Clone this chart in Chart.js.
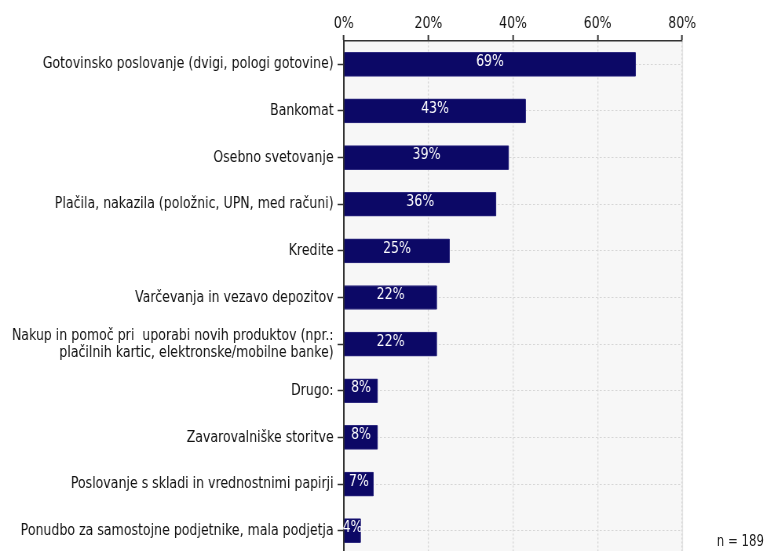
<!DOCTYPE html>
<html>
<head>
<meta charset="utf-8">
<script src="https://cdn.jsdelivr.net/npm/chart.js@4/dist/chart.umd.min.js"></script>
<style>
  html, body { margin: 0; padding: 0; background: #ffffff; overflow: hidden; }
  /* the chart is laid out wide and compressed horizontally to the page width */
  #wrap { position: relative; width: 971px; height: 555px; transform: scaleX(0.785); transform-origin: 0 0; }
  #c { display: block; width: 971px; height: 555px; }
  #note { position: absolute; left: 913px; top: 533px; font: 15px/16px "DejaVu Sans", sans-serif; color: #222; white-space: nowrap; }
</style>
</head>
<body>
<div id="wrap">
  <canvas id="c" width="971" height="555"></canvas>
  <div id="note">n = 189</div>
</div>
<script>
// Services used at the branch, share of respondents (%)
const categories = [
  "Gotovinsko poslovanje (dvigi, pologi gotovine)",
  "Bankomat",
  "Osebno svetovanje",
  "Plačila, nakazila (položnic, UPN, med računi)",
  "Kredite",
  "Varčevanja in vezavo depozitov",
  ["Nakup in pomoč pri  uporabi novih produktov (npr.:", "plačilnih kartic, elektronske/mobilne banke)"],
  "Drugo:",
  "Zavarovalniške storitve",
  "Poslovanje s skladi in vrednostnimi papirji",
  "Ponudbo za samostojne podjetnike, mala podjetja"
];
const shares = [69, 43, 39, 36, 25, 22, 22, 8, 8, 7, 4];
const tickValues = [0, 20, 40, 60, 80];

const FONT = '"DejaVu Sans", sans-serif';

const plotBackground = {
  id: 'plotBackground',
  beforeDraw(chart) {
    const { ctx, chartArea: a } = chart;
    ctx.save();
    ctx.fillStyle = '#f7f7f7';
    ctx.fillRect(a.left, a.top, a.right - a.left, a.bottom - a.top);
    ctx.strokeStyle = '#e4e4e4';
    ctx.lineWidth = 1.3;
    ctx.beginPath();
    ctx.moveTo(a.right + 0.5, a.top);
    ctx.lineTo(a.right + 0.5, a.bottom);
    ctx.stroke();
    ctx.restore();
  }
};

const barValues = {
  id: 'barValues',
  afterDatasetsDraw(chart) {
    const { ctx } = chart;
    const meta = chart.getDatasetMeta(0);
    ctx.save();
    ctx.fillStyle = '#ffffff';
    ctx.font = '16px ' + FONT;
    ctx.textAlign = 'center';
    ctx.textBaseline = 'middle';
    meta.data.forEach((bar, i) => {
      const cx = (bar.base + bar.x) / 2;
      ctx.fillText(shares[i] + '%', cx, bar.y - 2.5);
    });
    ctx.restore();
  }
};

new Chart(document.getElementById('c'), {
  type: 'bar',
  data: {
    labels: categories,
    datasets: [{
      data: shares,
      backgroundColor: '#0c0866',
      borderColor: '#2e2a80',
      borderWidth: 1,
      borderRadius: 1,
      barThickness: 24
    }]
  },
  options: {
    indexAxis: 'y',
    responsive: false,
    animation: false,
    layout: { padding: { top: 0, right: 102, bottom: 1, left: 0 } },
    plugins: {
      legend: { display: false },
      tooltip: { enabled: false }
    },
    scales: {
      x: {
        position: 'top',
        min: 0,
        max: 80,
        afterBuildTicks(scale) { scale.ticks = tickValues.map(v => ({ value: v })); },
        afterFit(scale) { scale.height = 41; },
        ticks: {
          callback: v => v + '%',
          color: '#111',
          font: { family: FONT, size: 16 },
          padding: 2,
          maxRotation: 0
        },
        grid: {
          color: '#d6d6d6',
          lineWidth: 1.3,
          tickColor: '#333',
          tickLength: 6,
          tickWidth: 2,
          tickBorderDash: []
        },
        border: { display: true, color: '#333', width: 1.5, dash: [2, 2] }
      },
      y: {
        afterFit(scale) {
          scale.width = 438;
          scale.paddingTop = 0;
          scale.paddingBottom = 0;
        },
        ticks: {
          color: '#111',
          font: { family: FONT, size: 16, lineHeight: 1.07 },
          padding: 5,
          autoSkip: false
        },
        grid: {
          offset: false,
          color: '#d6d6d6',
          lineWidth: 1,
          tickColor: '#333',
          tickLength: 8,
          tickWidth: 1.5,
          tickBorderDash: []
        },
        border: { display: true, color: '#333', width: 2, dash: [2.5, 2.5] }
      }
    }
  },
  plugins: [plotBackground, barValues]
});
</script>
</body>
</html>
